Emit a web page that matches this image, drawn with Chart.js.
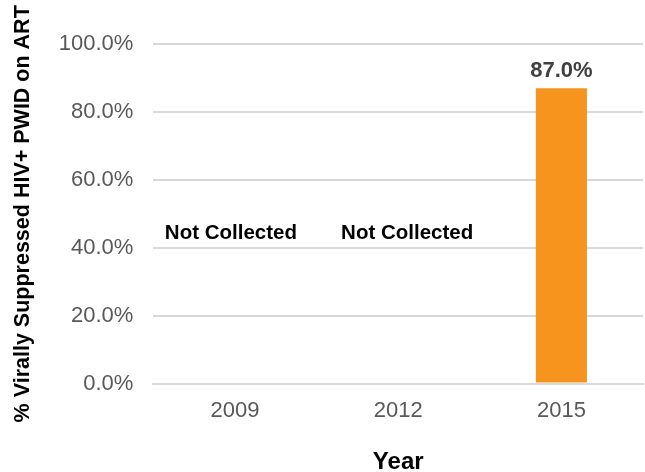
<!DOCTYPE html>
<html>
<head>
<meta charset="utf-8">
<script src="https://cdn.jsdelivr.net/npm/chart.js@4"></script>
<style>
  html, body { margin: 0; padding: 0; background: #fff; }
  #wrap { width: 645px; height: 472px; }
</style>
</head>
<body>
<div id="wrap"><canvas id="chart1"></canvas></div>
<script>
const years = ["2009", "2012", "2015"];
const suppressed = [null, null, 87.0];
const notes = ["Not Collected", "Not Collected", null];
const noteShift = [-0.025, 0.055, 0]; // notes sit a bit off the category centre
const noteLevel = 44.2; // y value where the "Not Collected" notes sit
const yTicks = [0, 20, 40, 60, 80, 100];

const fontFam = "'Liberation Sans', Arial, sans-serif";

// draws the value labels and the "Not Collected" notes
const labelPlugin = {
  id: "labels",
  afterDatasetsDraw(chart) {
    const ctx = chart.ctx;
    const x = chart.scales.x, y = chart.scales.y;
    const meta = chart.getDatasetMeta(0);
    ctx.save();
    ctx.textAlign = "center";
    suppressed.forEach((v, i) => {
      if (v != null) {
        const bar = meta.data[i];
        ctx.font = "bold 22px " + fontFam;
        ctx.fillStyle = "#404040";
        ctx.textBaseline = "bottom";
        ctx.fillText(v.toFixed(1) + "%", bar.x, bar.y - 6);
      }
      if (notes[i]) {
        ctx.font = "bold 20.5px " + fontFam;
        ctx.fillStyle = "#000";
        ctx.textBaseline = "middle";
        ctx.fillText(notes[i], x.getPixelForValue(i + noteShift[i]), y.getPixelForValue(noteLevel));
      }
    });
    ctx.restore();
  }
};

let plot = () => {
  const ctx = document.getElementById("chart1");
  const dataset = {
    labels: years,
    datasets: [
      {
        data: suppressed,
        backgroundColor: "#f7941e",
        categoryPercentage: 1,
        barPercentage: 0.313,
      },
    ],
  };
  const config = {
    type: "bar",
    data: dataset,
    plugins: [labelPlugin],
    options: {
      responsive: true,
      maintainAspectRatio: false,
      animation: false,
      layout: { padding: { top: 44, right: 2, left: 6, bottom: -2 } },
      plugins: { legend: { display: false }, tooltip: { enabled: false } },
      scales: {
        x: {
          grid: { display: false, drawTicks: false },
          border: { color: "#d9d9d9", width: 2 },
          ticks: { color: "#595959", font: { family: fontFam, size: 22 }, padding: 14 },
          title: {
            display: true, text: "Year", color: "#000",
            font: { family: fontFam, size: 24, weight: "bold", lineHeight: 1 }, padding: { top: 12, bottom: 0 }
          },
        },
        y: {
          min: 0, max: 100,
          afterBuildTicks: (s) => { s.ticks = yTicks.map(v => ({ value: v })); },
          grid: { color: "#d9d9d9", lineWidth: 2, drawTicks: false },
          border: { display: false },
          ticks: {
            color: "#595959", font: { family: fontFam, size: 22 }, padding: 20,
            callback: (v) => v.toFixed(1) + "%"
          },
          title: {
            display: true, text: "% Virally Suppressed HIV+ PWID on ART", color: "#000",
            font: { family: fontFam, size: 21.5, weight: "bold" }, padding: { bottom: 3 }
          },
        },
      },
    },
  };
  const chart = new Chart(ctx, config);
};

plot();
</script>
</body>
</html>
